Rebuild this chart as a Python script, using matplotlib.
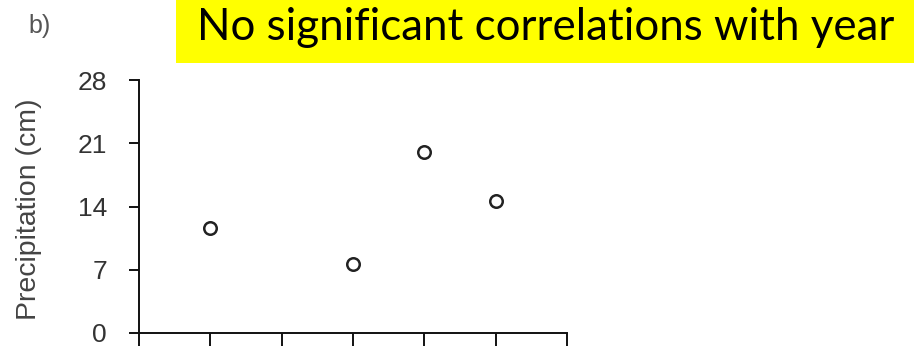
import matplotlib
matplotlib.use("Agg")
import matplotlib.pyplot as plt
from matplotlib.patches import Rectangle

# Data (x positions on an unlabeled 0..6 axis, precipitation in cm)
x_pos = [1, 3, 4, 5]
precip = [11.6, 7.6, 20.0, 14.6]
y_ticks = [0, 7, 14, 21, 28]
x_ticks = [0, 1, 2, 3, 4, 5, 6]
title_text = "No significant correlations with year"
panel_label = "b)"
y_label = "Precipitation (cm)"

tick_family = ["Liberation Sans", "DejaVu Sans"]

W, H, DPI = 917, 346, 100
fig = plt.figure(figsize=(W / DPI, H / DPI), dpi=DPI)
fig.patch.set_facecolor("white")

# axes placement in pixels
left_px, right_px, top_px, bot_px = 139, 567, 80, 333
ax = fig.add_axes([left_px / W, (H - bot_px) / H, (right_px - left_px) / W, (bot_px - top_px) / H])
ax.plot(x_pos, precip, linestyle="none", marker="o", markersize=9,
        markerfacecolor="white", markeredgecolor="#222222", markeredgewidth=1.8, clip_on=False)
ax.set_xlim(0, 6)
ax.set_ylim(0, 28)
ax.set_xticks(x_ticks)
ax.set_xticklabels([""] * len(x_ticks))
ax.set_yticks(y_ticks)
ax.set_yticklabels([str(v) for v in y_ticks], fontsize=19, color="#333333",
                   family=tick_family)
for s in ["top", "right"]:
    ax.spines[s].set_visible(False)
for s in ["left", "bottom"]:
    ax.spines[s].set_linewidth(1.4)
    ax.spines[s].set_color("#111111")
ax.tick_params(axis="x", direction="out", length=11, width=1.4, color="#111111")
ax.tick_params(axis="y", direction="out", length=7, width=1.4, color="#111111", pad=16)
ax.set_ylabel(y_label, fontsize=20.5, color="#444444", family=tick_family)
ax.yaxis.set_label_coords((42 - left_px) / (right_px - left_px), 0.49)

# panel label
fig.text(28 / W, 1 - 33 / H, panel_label, fontsize=18, color="#555555",
         family=tick_family, ha="left", va="baseline")

# yellow title box
fig.patches.append(Rectangle((176 / W, (H - 63) / H), (914 - 176) / W, 63 / H,
                             transform=fig.transFigure, facecolor="#FFFF00", edgecolor="none", zorder=0))
t = fig.text(197 / W, 1 - 39.5 / H, title_text, fontsize=25, color="black",
             family=["Lato", "DejaVu Sans"], ha="left", va="baseline")
fig.canvas.draw()
bb = t.get_window_extent(renderer=fig.canvas.get_renderer())
target = 895 - 197
t.set_fontsize(25 * target / bb.width)

fig.savefig("out.png", dpi=DPI)
